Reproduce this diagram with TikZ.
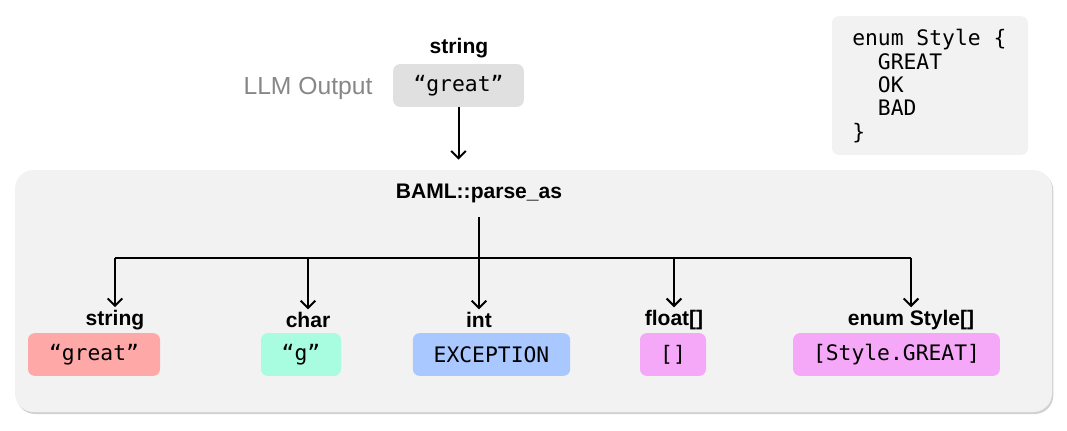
\documentclass[tikz,border=0pt]{standalone}
\usepackage{fontspec}
\setmainfont{Liberation Sans}
\setmonofont{DejaVu Sans Mono}
\usetikzlibrary{
	arrows.meta,
	positioning,
	shadows
}
\definecolor{panelgray}{HTML}{F2F2F2}
\definecolor{inputgray}{HTML}{E0E0E0}
\definecolor{outred}{HTML}{FFA8A8}
\definecolor{outgreen}{HTML}{A8FCDF}
\definecolor{outblue}{HTML}{A8C8FF}
\definecolor{outpink}{HTML}{F5A8F7}

\begin{document}
\begin{tikzpicture}[x=0.75pt,y=-0.75pt,
		panel/.style={rectangle, rounded corners=14pt, fill=panelgray, inner sep=0pt,
			drop shadow={shadow xshift=1pt, shadow yshift=-1.5pt, opacity=0.3, fill=black!60}},
		typelbl/.style={font=\fontsize{15.8}{18}\selectfont\bfseries, inner sep=2pt},
		valbox/.style={rectangle, rounded corners=5pt, minimum height=32pt, inner sep=0pt,
			font=\ttfamily\fontsize{16}{19}\selectfont},
		arrow/.style={-{Straight Barb[length=5.5pt,width=11pt]}, line width=1.5pt}
		]
		\useasboundingbox (0,0) rectangle (1067,430);
		
		% --- Parser panel ---
		\node[panel, minimum width=777.75pt, minimum height=181.5pt] (panel) at (533.5,291) {};
		
		% --- Input ---
		\node[valbox, fill=inputgray, minimum width=98pt] (input) at (458.5,85.5) {“great”};
		\node[typelbl] (intype) at (459,48) {string};
		\node[text=black!47, font=\fontsize{18.5}{22}\selectfont] (llm) at (308,88) {LLM Output};
		
		% --- Enum definition ---
		\node[rectangle, rounded corners=5pt, fill=panelgray, minimum width=147pt, minimum height=104pt,
			inner sep=0pt] (enumdef) at (930,85.5) {};
		\node[anchor=north west, align=left, inner sep=0pt,
			font=\ttfamily\fontsize{16}{17.6}\selectfont] (enumcode) at (852,29)
		{enum Style \{\\ \phantom{XX}GREAT\\ \phantom{XX}OK\\ \phantom{XX}BAD\\ \}};
		
		\node[typelbl] (parse) at (479,193) {BAML::parse\_as};
		
		% --- Results ---
		\node[valbox, fill=outred, minimum width=99pt] (vstring) at (94,354.5) {“great”};
		\node[valbox, fill=outgreen, minimum width=60pt] (vchar) at (301,354.5) {“g”};
		\node[valbox, fill=outblue, minimum width=118pt] (vint) at (491.5,354.5) {EXCEPTION};
		\node[valbox, fill=outpink, minimum width=49.5pt] (vfloat) at (673,354.5) {[]};
		\node[valbox, fill=outpink, minimum width=155pt] (venum) at (896.5,354.5) {[Style.GREAT]};
		
		\node[typelbl] (tstring) at (115,320) {string};
		\node[typelbl] (tchar) at (308,320) {char};
		\node[typelbl] (tint) at (479,320) {int};
		\node[typelbl] (tfloat) at (674,320) {float[]};
		\node[typelbl] (tenum) at (911,320) {enum Style[]};
		
		% --- Arrows ---
		\draw[arrow, shorten >=7.5pt] (input.south) -- (input.south |- panel.north);
		
		\coordinate (split) at (479,258);
		\draw[line width=1.5pt] (split -| tstring) -- (split -| tenum);
		\draw[arrow, shorten <=9pt] (parse.south) -- (tint);
		\foreach \t in {tstring, tchar, tfloat, tenum}
			\draw[arrow] (split -| \t) -- (\t);
		
	\end{tikzpicture}
\end{document}
